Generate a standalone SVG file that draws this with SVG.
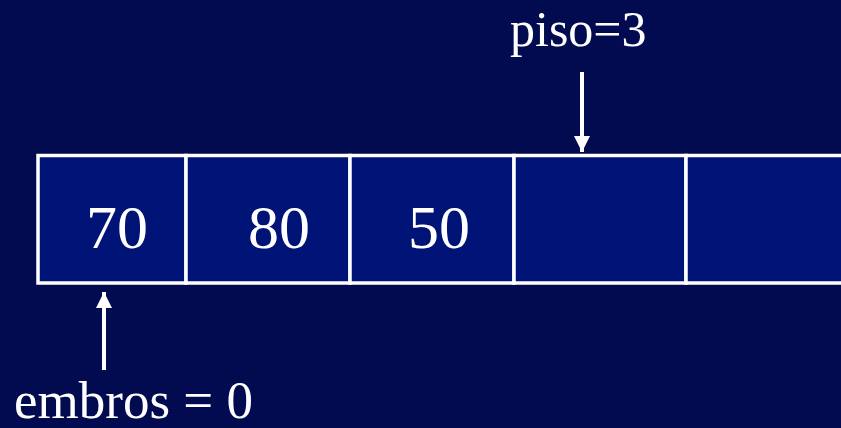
<svg xmlns="http://www.w3.org/2000/svg" width="841" height="428" viewBox="0 0 841 428">
<style>
.cell{fill:#001377;stroke:#ffffff;stroke-width:3.5}
.t{font-family:"Liberation Serif","Times New Roman",serif;fill:#ffffff}
.conn{stroke:#ffffff;stroke-width:4;fill:none}
</style>
<defs>
<marker id="ah" markerUnits="userSpaceOnUse" markerWidth="16" markerHeight="18" refX="16" refY="8" orient="auto">
<path d="M0,0 L16,8 L0,16 Z" fill="#ffffff"/>
</marker>
</defs>
<rect width="841" height="428" fill="#020b4f"/>
<g id="array">
<rect class="cell" x="38" y="155.5" width="148" height="127.5"/>
<rect class="cell" x="186" y="155.5" width="164" height="127.5"/>
<rect class="cell" x="350" y="155.5" width="164" height="127.5"/>
<rect class="cell" x="514" y="155.5" width="172" height="127.5"/>
<rect class="cell" x="686" y="155.5" width="170" height="127.5"/>
</g>
<g id="values">
<text class="t" x="86" y="248" font-size="62">70</text>
<text class="t" x="248" y="248" font-size="62">80</text>
<text class="t" x="408" y="248" font-size="62">50</text>
</g>
<g id="piso">
<text class="t" x="510" y="46" font-size="50">piso=3</text>
</g>
<g id="embros">
<text class="t" x="14" y="418" font-size="53">embros = 0</text>
</g>
<g id="connectors">
<line class="conn" x1="582" y1="72" x2="582" y2="152" marker-end="url(#ah)"/>
<line class="conn" x1="104" y1="370" x2="104" y2="292" marker-end="url(#ah)"/>
</g>
</svg>
